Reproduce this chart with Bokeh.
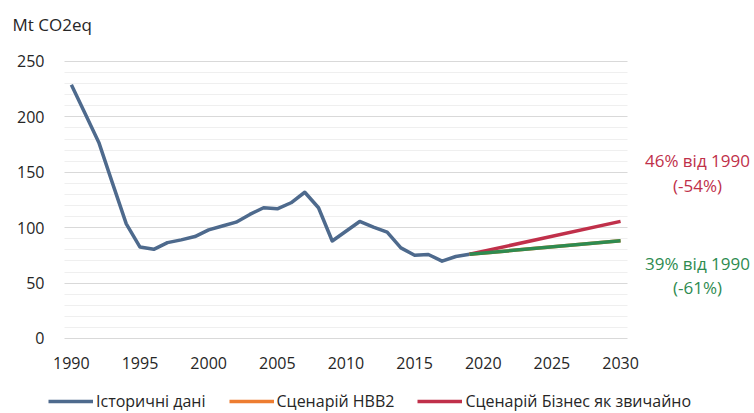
from bokeh.plotting import figure
from bokeh.models import (Range1d, FixedTicker, Legend, LegendItem, Label)
from bokeh.embed import file_html
from bokeh.resources import INLINE

# ---- data ----
hist_years = list(range(1990, 2020))
hist_values = [229, 203, 177, 140, 103.5, 82.5, 80.5, 86.5, 89, 92, 98, 101.5, 105,
               112, 118, 117, 122.5, 132, 118, 88, 96.8, 105.6, 100.5, 96, 81.8,
               75.2, 75.8, 69.8, 74, 76]
scen_years = [2019, 2030]
nvv2_values = [76, 88.3]
bau_values = [76, 105.7]
label_bau = ["46% від 1990", "(-54%)"]
label_nvv2 = ["39% від 1990", "(-61%)"]
x_ticks = list(range(1990, 2031, 5))
y_ticks = list(range(0, 251, 50))
y_minor = [v for v in range(10, 250, 10) if v % 50]

FONT = "Open Sans"
BLUE = "#4E6A8D"
ORANGE = "#ED7D31"
RED = "#C0304A"
GREEN = "#2E8B50"
TXT = "#262626"

p = figure(width=754, height=413, output_backend="svg", toolbar_location=None,
           x_range=Range1d(1984.839, 2039.755), y_range=Range1d(-67.69, 305.05),
           min_border=0, min_border_left=0, min_border_right=0,
           min_border_top=0, min_border_bottom=0)
p.outline_line_color = None
p.background_fill_color = "white"

# axes
p.xaxis.ticker = FixedTicker(ticks=x_ticks)
p.yaxis.ticker = FixedTicker(ticks=y_ticks, minor_ticks=y_minor)
p.xaxis.fixed_location = 0
p.yaxis.fixed_location = 1989.5
for ax in (p.xaxis[0], p.yaxis[0]):
    ax.axis_line_color = None
    ax.major_tick_line_color = None
    ax.minor_tick_line_color = None
    ax.major_label_text_font = FONT
    ax.major_label_text_font_size = "16px"
    ax.major_label_text_color = TXT
p.xaxis.major_label_standoff = 13
p.yaxis.major_label_standoff = 14

p.xgrid.grid_line_color = None
p.ygrid.grid_line_color = "#D9D9D9"
p.ygrid.grid_line_width = 1
p.ygrid.minor_grid_line_color = "#EFEFEF"
p.ygrid.minor_grid_line_width = 1
p.ygrid.cross_bounds = (1989.5, 2030.5)

# lines
r_hist = p.line(hist_years, hist_values, line_color=BLUE, line_width=3.5, line_join="round")
r_nvv2 = p.line(scen_years, nvv2_values, line_color=ORANGE, line_width=3.5)
r_bau = p.line(scen_years, bau_values, line_color=RED, line_width=3.5)
r_green = p.line(scen_years, nvv2_values, line_color=GREEN, line_width=3.5)

legend = Legend(items=[
    LegendItem(label="Історичні дані", renderers=[r_hist]),
    LegendItem(label="Сценарій НВВ2", renderers=[r_nvv2]),
    LegendItem(label="Сценарій Бізнес як звичайно", renderers=[r_bau]),
], orientation="horizontal", location=(48, 1),
    label_text_font=FONT, label_text_font_size="16px", label_text_color=TXT,
    glyph_width=45, label_standoff=3, spacing=23, border_line_color=None,
    background_fill_alpha=0, padding=0, margin=0)
p.add_layout(legend)

# title label
p.add_layout(Label(x=1985.713, y=283.5, text="Mt CO2eq", text_font=FONT,
                   text_font_size="17px", text_color=TXT, text_baseline="middle"))

# annotations
for txt, yv in zip(label_bau, [160.6, 138.1]):
    p.add_layout(Label(x=2035.6, y=yv, text=txt, text_align="center",
                       text_baseline="middle", text_font=FONT,
                       text_font_size="17px", text_color=RED))
for txt, yv in zip(label_nvv2, [67.7, 46.0]):
    p.add_layout(Label(x=2035.6, y=yv, text=txt, text_align="center",
                       text_baseline="middle", text_font=FONT,
                       text_font_size="17px", text_color=GREEN))

open("out.html", "w").write(file_html(p, INLINE))
